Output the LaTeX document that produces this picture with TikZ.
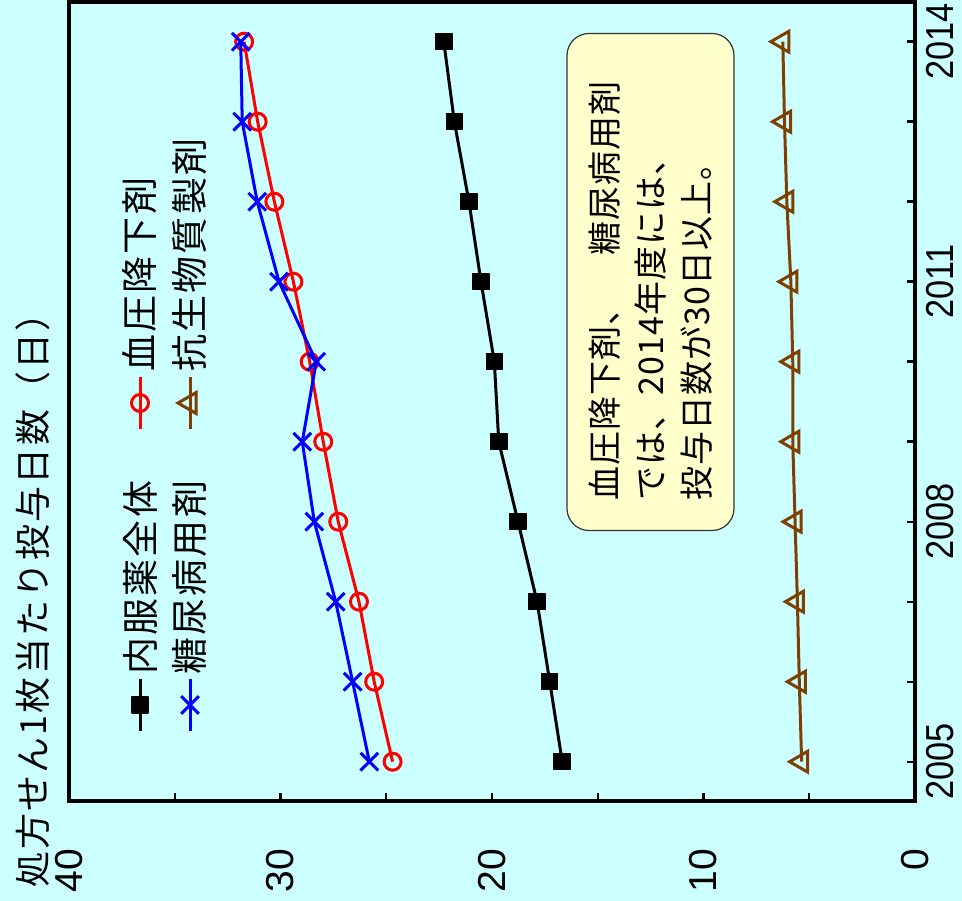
\documentclass[tikz,border=0pt]{standalone}
\usepackage{fontspec}
\usetikzlibrary{plotmarks}
\newfontfamily\jpnote[LetterSpace=3]{Noto Sans CJK JP}
\newfontfamily\jpwide[LetterSpace=6]{Noto Sans CJK JP}
\newfontfamily\numfont{Liberation Sans}

\definecolor{bgcyan}{HTML}{CCFFFF}
\definecolor{notefill}{HTML}{FFFFCC}
\definecolor{abbrown}{HTML}{7F3F00}

\tikzset{
  frameline/.style={line width=3.2pt},
  tickline/.style={line width=2.4pt},
  serAll/.style={black, line width=3pt, line join=round, mark=square*, mark size=8pt,
    mark options={fill=black, line width=1.5pt}},
  serBP/.style={red, line width=3pt, mark=o, mark size=8.5pt},
  serDM/.style={blue, line width=3pt, mark=x, mark size=12.5pt},
  serAB/.style={abbrown, line width=3pt, mark=triangle, mark size=12pt,
    mark options={rotate=90}},
  jplabel/.style={font=\jpwide\fontsize{37}{44}\selectfont, rotate=90, inner sep=0pt},
  numlabel/.style={font=\numfont\fontsize{39}{44}\selectfont, rotate=90, inner sep=0pt},
  notebox/.style={draw=black!80, line width=1.2pt, fill=notefill, rounded corners=22pt,
    rotate=90, align=left, text width=437pt, inner xsep=30pt, minimum height=167pt,
    font=\jpnote\fontsize{34}{46}\selectfont},
}

\begin{document}
\begin{tikzpicture}[x=1pt, y=-1pt]
    % Background
    \fill[bgcyan] (0,0) rectangle (962,901);
    \useasboundingbox (0,0) rectangle (962,901);

    % Draw frame and ticks
    \draw[frameline] (69,2) rectangle (915,801);
    \foreach \v in {5,10,...,35}
        \draw[tickline] ({915-21.15*\v},801) -- ++(0,-8);
    \foreach \i in {0,...,9}
        \draw[tickline] (915,{761.7-80*\i}) -- ++(-8,0);

    % Axis labels
    \node[jplabel, anchor=west, font=\jpwide\fontsize{36}{44}\selectfont] (ytitle) at (33,888)
        {処方せん1枚当たり投与日数（日）};
    \foreach \v in {0,10,20,30,40}
        \node[numlabel, anchor=east] (val\v) at ({915-21.15*\v},849) {\v};
    \foreach \yr in {2005,2008,2011,2014}
        \node[numlabel] (yr\yr) at (940,{761.7-80*(\yr-2005)}) {\scalebox{0.88}[1]{\yr}};

    % Draw data series
    \begin{scope}[shift={(915,761.7)}, x={(-21.15pt,0pt)}, y={(0pt,80pt)}]
        \draw[serAB] plot coordinates {(5.36,0) (5.47,1) (5.56,2) (5.67,3) (5.78,4)
            (5.78,5) (5.87,6) (6.06,7) (6.17,8) (6.25,9)};
        \draw[serAll] plot coordinates {(16.68,0) (17.27,1) (17.87,2) (18.77,3) (19.68,4)
            (19.89,5) (20.52,6) (21.09,7) (21.78,8) (22.28,9)};
        \draw[serBP] plot coordinates {(24.70,0) (25.57,1) (26.29,2) (27.27,3) (27.98,4)
            (28.62,5) (29.39,6) (30.29,7) (31.08,8) (31.72,9)};
        \draw[serDM] plot coordinates {(25.80,0) (26.59,1) (27.39,2) (28.40,3) (28.97,4)
            (28.31,5) (30.07,6) (31.10,7) (31.81,8) (31.88,9)};
    \end{scope}

    % Legend
    \draw[serAll, mark indices={2}] plot coordinates {(140,731) (140,705) (140,679)};
    \node[jplabel, anchor=west] (lgAll) at (140,675) {内服薬全体};
    \draw[serBP, mark indices={2}] plot coordinates {(140,429) (140,403) (140,377)};
    \node[jplabel, anchor=west] (lgBP) at (140,372) {血圧降下剤};
    \draw[serDM, mark indices={2}] plot coordinates {(190,731) (190,705) (190,679)};
    \node[jplabel, anchor=west] (lgDM) at (190,675) {糖尿病用剤};
    \draw[serAB, mark indices={2}] plot coordinates {(190,429) (190,403) (190,377)};
    \node[jplabel, anchor=west] (lgAB) at (190,372) {抗生物質製剤};

    % Note
    \node[notebox] (note) at (650.5,282)
        {血圧降下剤、　糖尿病用剤\\では、2014年度には、\\投与日数が30日以上。};
\end{tikzpicture}
\end{document}
